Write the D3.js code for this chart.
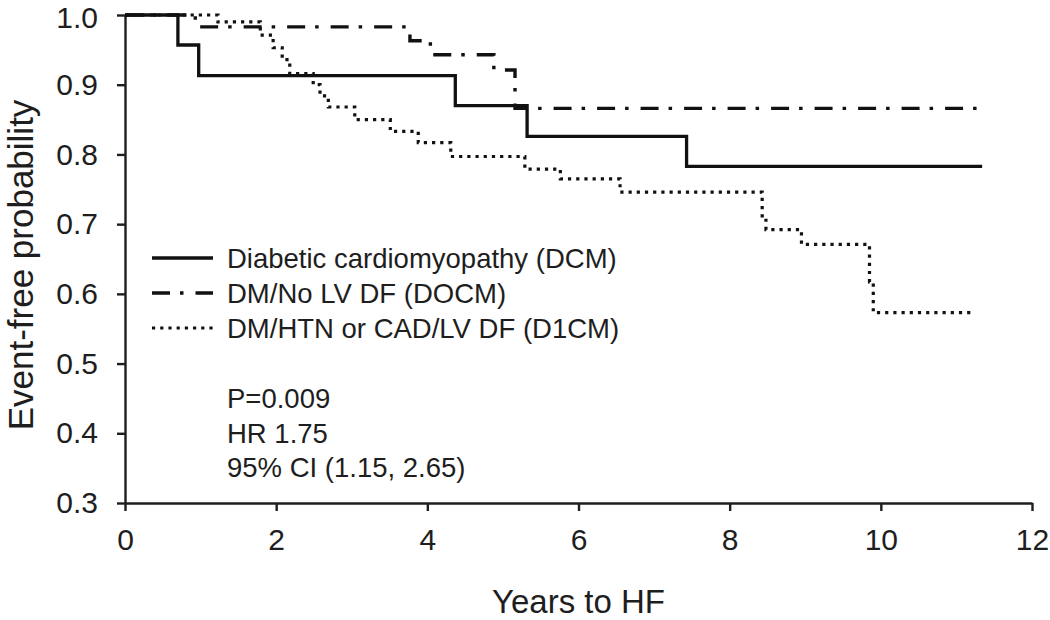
<!DOCTYPE html>
<html>
<head>
<meta charset="utf-8">
<script src="https://cdn.jsdelivr.net/npm/d3@7"></script>
<style>
  html, body { margin: 0; padding: 0; background: #fff; }
  svg { display: block; font-family: "Liberation Sans", Arial, sans-serif; }
</style>
</head>
<body>
<svg id="chart" width="1050" height="620"></svg>
<script>
// ---- data ----
const dcmTimes  = [0, 0.70, 0.975, 4.37, 5.32, 7.43, 11.34];
const dcmSurv   = [1.0, 0.957, 0.913, 0.870, 0.826, 0.783, 0.783];

const docmTimes = [0, 0.93, 3.77, 4.04, 4.88, 5.16, 11.32];
const docmSurv  = [1.0, 0.983, 0.963, 0.943, 0.921, 0.866, 0.866];

const d1cmTimes = [0, 1.23, 1.79, 1.96, 2.08, 2.18, 2.49, 2.58, 2.69, 3.04, 3.51, 3.88, 4.31, 5.29, 5.76, 6.55, 8.43, 8.48, 8.95, 9.85, 9.90, 11.21];
const d1cmSurv  = [1.0, 0.990, 0.971, 0.953, 0.936, 0.916, 0.900, 0.884, 0.868, 0.850, 0.833, 0.817, 0.797, 0.779, 0.765, 0.746, 0.712, 0.692, 0.671, 0.617, 0.573, 0.573];

const seriesNames = ["Diabetic cardiomyopathy (DCM)", "DM/No LV DF (DOCM)", "DM/HTN or CAD/LV DF (D1CM)"];
const xTicks = [0, 2, 4, 6, 8, 10, 12];
const yTicks = [0.3, 0.4, 0.5, 0.6, 0.7, 0.8, 0.9, 1.0];
const annotations = ["P=0.009", "HR 1.75", "95% CI (1.15, 2.65)"];
const xTitle = "Years to HF";
const yTitle = "Event-free probability";

// ---- chart ----
const svg = d3.select("#chart");
const ink = "#1e1e1e";
svg.append("rect").attr("width", 1050).attr("height", 620).attr("fill", "#fff");

const x = d3.scaleLinear().domain([0, 12]).range([125, 1032]);
const y = d3.scaleLinear().domain([0.3, 1.0]).range([503, 15]);

const styles = [
  { dash: null, width: 3.3 },
  { dash: "18,10,3.5,12", width: 3.4 },
  { dash: "3.2,5", width: 3.2 }
];
const series = [
  { name: seriesNames[0], t: dcmTimes, s: dcmSurv, st: styles[0] },
  { name: seriesNames[1], t: docmTimes, s: docmSurv, st: styles[1] },
  { name: seriesNames[2], t: d1cmTimes, s: d1cmSurv, st: styles[2] }
];

// axes
const yAxis = d3.axisLeft(y).tickValues(yTicks).tickFormat(d3.format(".1f"))
  .tickSize(8).tickSizeOuter(0).tickPadding(19);
const xAxis = d3.axisBottom(x).tickValues(xTicks).tickFormat(d3.format("d"))
  .tickSize(8).tickSizeOuter(0).tickPadding(18);

const gy = svg.append("g").attr("transform", `translate(${x(0)},0)`).call(yAxis);
const gx = svg.append("g").attr("transform", `translate(0,${y(0.3)})`).call(xAxis);
[gx, gy].forEach(g => {
  g.selectAll("path.domain").attr("stroke", ink).attr("stroke-width", 2.4);
  g.selectAll(".tick line").attr("stroke", ink).attr("stroke-width", 2.4);
  g.selectAll(".tick text").attr("fill", ink).attr("font-size", 30)
    .attr("font-family", "Liberation Sans, Arial, sans-serif");
});
// keep the top label's box inside the picture
gy.selectAll(".tick text").filter(d => d === 1.0).attr("dy", "0.42em");

// titles
svg.append("text").attr("x", x(6)).attr("y", 613).attr("text-anchor", "middle")
  .attr("font-size", 33).attr("fill", ink).text(xTitle);
svg.append("text").attr("transform", `translate(33,${(y(0.3) + y(1.0)) / 2 + 6}) rotate(-90)`)
  .attr("text-anchor", "middle").attr("font-size", 35).attr("fill", ink).text(yTitle);

// curves
const line = d3.line().curve(d3.curveStepAfter).x(d => x(d[0])).y(d => y(d[1]));
series.forEach(sr => {
  const pts = sr.t.map((t, i) => [t, sr.s[i]]);
  svg.append("path").datum(pts).attr("d", line)
    .attr("fill", "none").attr("stroke", "#111")
    .attr("stroke-width", sr.st.width)
    .attr("stroke-dasharray", sr.st.dash)
    .attr("stroke-linejoin", "miter").attr("stroke-linecap", "butt");
});

// legend
const legY = [258, 293, 328];
series.forEach((sr, i) => {
  svg.append("line").attr("x1", 152).attr("x2", 213).attr("y1", legY[i]).attr("y2", legY[i])
    .attr("stroke", "#111").attr("stroke-width", sr.st.width)
    .attr("stroke-dasharray", sr.st.dash);
  svg.append("text").attr("x", 227).attr("y", legY[i] + 10)
    .attr("font-size", 27.5).attr("fill", ink).text(sr.name);
});

// annotations
const annY = [408, 443, 477];
annotations.forEach((a, i) => {
  svg.append("text").attr("x", 227).attr("y", annY[i])
    .attr("font-size", 27.5).attr("fill", ink).text(a);
});
</script>
</body>
</html>
